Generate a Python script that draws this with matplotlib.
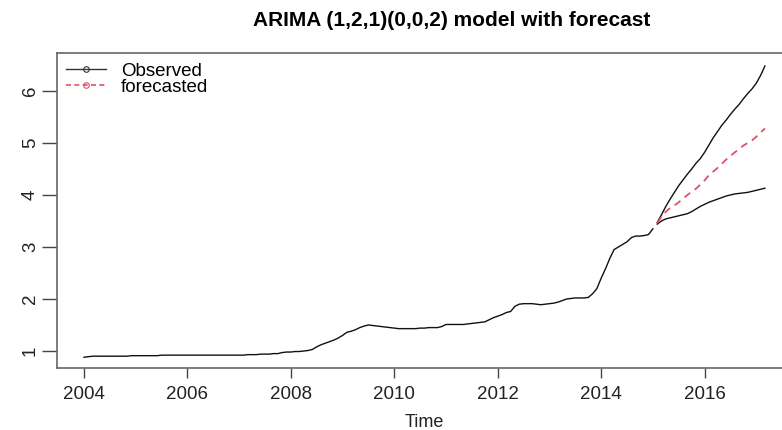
import numpy as np
import matplotlib.pyplot as plt
from matplotlib.lines import Line2D

plt.rcParams['font.family'] = ['Liberation Sans', 'DejaVu Sans']

# monthly observed series, Jan 2004 .. Jan 2015
observed = [
    0.88, 0.89, 0.90, 0.90, 0.90, 0.90, 0.90, 0.90, 0.90, 0.90, 0.90, 0.91,  # 2004
    0.91, 0.91, 0.91, 0.91, 0.91, 0.91, 0.92, 0.92, 0.92, 0.92, 0.92, 0.92,  # 2005
    0.92, 0.92, 0.92, 0.92, 0.92, 0.92, 0.92, 0.92, 0.92, 0.92, 0.92, 0.92,  # 2006
    0.92, 0.92, 0.93, 0.93, 0.93, 0.94, 0.94, 0.94, 0.95, 0.95, 0.97, 0.98,  # 2007
    0.98, 0.99, 0.99, 1.00, 1.01, 1.03, 1.08, 1.12, 1.15, 1.18, 1.21, 1.25,  # 2008
    1.30, 1.36, 1.38, 1.41, 1.45, 1.48, 1.50, 1.49, 1.48, 1.47, 1.46, 1.45,  # 2009
    1.44, 1.43, 1.43, 1.43, 1.43, 1.43, 1.44, 1.44, 1.45, 1.45, 1.45, 1.47,  # 2010
    1.51, 1.51, 1.51, 1.51, 1.51, 1.52, 1.53, 1.54, 1.55, 1.56, 1.60, 1.64,  # 2011
    1.67, 1.70, 1.74, 1.76, 1.86, 1.90, 1.91, 1.91, 1.91, 1.90, 1.89, 1.90,  # 2012
    1.91, 1.92, 1.94, 1.97, 2.00, 2.01, 2.02, 2.02, 2.02, 2.03, 2.10, 2.20,  # 2013
    2.40, 2.58, 2.78, 2.95, 3.00, 3.05, 3.10, 3.18, 3.21, 3.21, 3.22, 3.24,  # 2014
    3.35,
]

# forecast Feb 2015 .. Mar 2017
fc_mean = [3.46, 3.58, 3.68, 3.75, 3.80, 3.86, 3.93, 4.00, 4.06, 4.12, 4.20, 4.28,
           4.38, 4.45, 4.52, 4.60, 4.68, 4.75, 4.82, 4.88, 4.95, 5.00, 5.05, 5.12,
           5.20, 5.28]
fc_upper = [3.47, 3.62, 3.78, 3.92, 4.05, 4.18, 4.29, 4.40, 4.50, 4.61, 4.70, 4.82,
            4.96, 5.10, 5.22, 5.34, 5.44, 5.55, 5.65, 5.74, 5.85, 5.95, 6.04, 6.15,
            6.30, 6.48]
fc_lower = [3.44, 3.50, 3.54, 3.56, 3.58, 3.60, 3.62, 3.64, 3.68, 3.73, 3.78, 3.82,
            3.86, 3.89, 3.92, 3.95, 3.98, 4.00, 4.02, 4.03, 4.04, 4.05, 4.07, 4.09,
            4.11, 4.13]

t_obs = 2004 + np.arange(len(observed)) / 12
t_fc = 2015 + (np.arange(len(fc_mean)) + 1) / 12

fig = plt.figure(figsize=(7.82, 4.30), dpi=100)
ax = fig.add_axes([57 / 782, 1 - 368 / 430, (792 - 57) / 782, (368 - 53) / 430])

ax.plot(t_obs, observed, color='#111111', lw=1)
ax.plot(t_fc, fc_upper, color='#111111', lw=1)
ax.plot(t_fc, fc_lower, color='#111111', lw=1)
ax.plot(t_fc, fc_mean, color='#e0506a', lw=1.3, ls=(0, (4, 3)))

ax.set_xlim(2003.478, 2017.69)
ax.set_ylim(0.673, 6.73)
ax.set_xticks([2004, 2006, 2008, 2010, 2012, 2014, 2016])
ax.set_yticks([1, 2, 3, 4, 5, 6])
ax.tick_params(direction='out', width=1, color='#444444', labelsize=13.5,
               labelcolor='#222222')
ax.tick_params(axis='x', length=7, pad=6)
ax.tick_params(axis='y', length=11, pad=2)
for lab in ax.get_yticklabels():
    lab.set_rotation(90)
    lab.set_va('center')
for sp in ax.spines.values():
    sp.set_color('#666666')
    sp.set_linewidth(1.2)

ax.set_xlabel('Time', fontsize=13, labelpad=8, color='#222222')
fig.text(452 / 782, 1 - 20 / 430, 'ARIMA (1,2,1)(0,0,2) model with forecast',
         ha='center', va='center', fontsize=15, fontweight='bold')

handles = [
    Line2D([], [], color='#333333', lw=1, marker='o', ms=4, mfc='none', mew=0.8),
    Line2D([], [], color='#e0506a', lw=1.2, ls=(0, (3, 2)), marker='o', ms=4,
           mfc='none', mew=0.8),
]
ax.legend(handles, ['Observed', 'forecasted'], loc='upper left', frameon=False,
          fontsize=13.5, handlelength=2.1, handletextpad=0.8, labelspacing=-0.05,
          borderaxespad=0.2, borderpad=0.3)

fig.savefig('out.png', dpi=100)
